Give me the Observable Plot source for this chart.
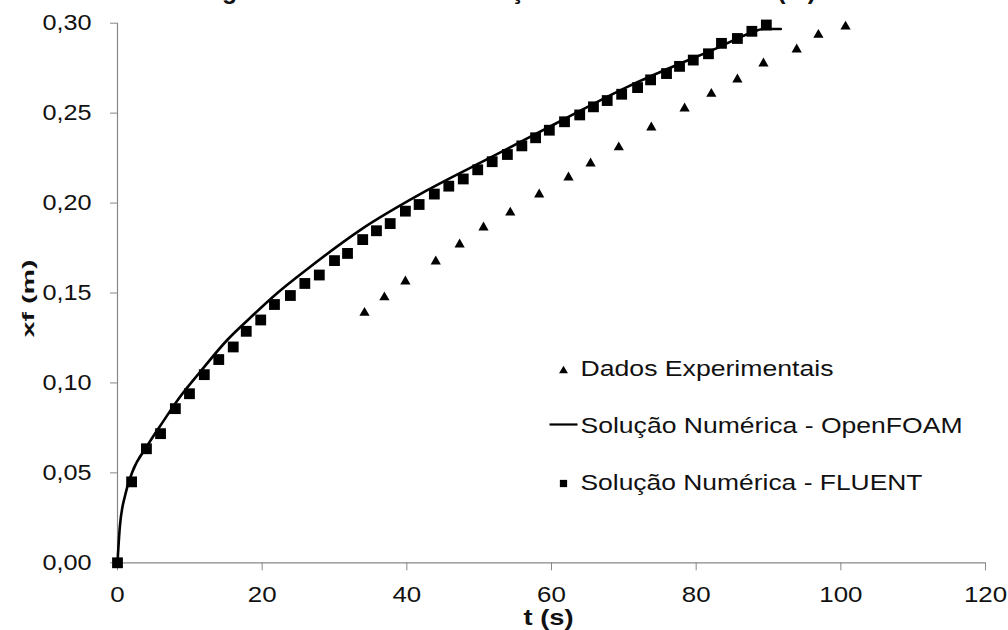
<!DOCTYPE html>
<html><head><meta charset="utf-8">
<script src="https://cdn.jsdelivr.net/npm/d3@7"></script>
<script src="https://cdn.jsdelivr.net/npm/@observablehq/plot@0.6"></script>
<style>
html,body{margin:0;padding:0;background:#fff;overflow:hidden}
#chart svg{display:block}
</style></head><body><div id="chart"></div>
<script>
// ---- text ----
const titleText = "Figura 6 – Curvas de Avanço da Frente Úmida xf (m)";
const xLabel = "t (s)";
const yLabel = "xf (m)";
const legendLabels = ["Dados Experimentais", "Solução Numérica - OpenFOAM", "Solução Numérica - FLUENT"];

// ---- ticks ----
const xTicks = [0, 20, 40, 60, 80, 100, 120];
const yTicks = [0, 0.05, 0.10, 0.15, 0.20, 0.25, 0.30];

// ---- Dados Experimentais (triangles) ----
const expT  = [34.15, 36.9, 39.8, 44.0, 47.3, 50.6, 54.3, 58.3, 62.35, 65.4, 69.3, 73.8, 78.4, 82.1, 85.7, 89.3, 93.9, 96.9, 100.65];
const expXf = [0.139, 0.1476, 0.1564, 0.1675, 0.177, 0.1864, 0.1947, 0.2048, 0.2142, 0.222, 0.231, 0.242, 0.2526, 0.2607, 0.2687, 0.2776, 0.2854, 0.2935, 0.2981];

// ---- Solução Numérica - FLUENT (squares) ----
const fluentT  = [0, 1.95, 4.0, 5.95, 8.0, 9.95, 12.0, 14.0, 16.0, 17.8, 19.8, 21.7, 23.9, 25.9, 27.9, 30.0, 31.8, 33.9, 35.8, 37.7, 39.8, 41.7, 43.8, 45.8, 47.8, 49.8, 51.8, 53.9, 55.9, 57.8, 59.7, 61.8, 63.9, 65.8, 67.7, 69.7, 71.9, 73.7, 75.9, 77.7, 79.6, 81.7, 83.5, 85.7, 87.7, 89.7];
const fluentXf = [0, 0.045, 0.0634, 0.0718, 0.0857, 0.094, 0.1046, 0.113, 0.120, 0.1287, 0.135, 0.1436, 0.1486, 0.1553, 0.160, 0.168, 0.172, 0.1797, 0.1846, 0.1886, 0.1955, 0.1992, 0.205, 0.2094, 0.2134, 0.2185, 0.223, 0.227, 0.2318, 0.2363, 0.2405, 0.2452, 0.249, 0.2535, 0.257, 0.2605, 0.2642, 0.2685, 0.272, 0.276, 0.2795, 0.283, 0.2888, 0.2915, 0.2955, 0.299];

// ---- Solução Numérica - OpenFOAM (line) ----
const foamT  = [0, 0.32, 1.1, 2.05, 4.15, 6.3, 8.5, 11.5, 15.2, 18.4, 22.1, 26.3, 33.6, 42.9, 52.0, 61.2, 70.5, 76.0, 82.95, 87.5, 89.3, 91.7];
const foamXf = [0, 0.0198, 0.0383, 0.0505, 0.0653, 0.0785, 0.0915, 0.1065, 0.1240, 0.1364, 0.150, 0.1635, 0.1851, 0.2073, 0.2262, 0.2455, 0.2646, 0.2745, 0.2863, 0.2946, 0.2968, 0.2968];

const exp = expT.map((t, i) => ({t, xf: expXf[i]}));
const fluent = fluentT.map((t, i) => ({t, xf: fluentXf[i]}));
const foam = foamT.map((t, i) => ({t, xf: foamXf[i]}));

const W = 1008, H = 630;
const mL = 117, mR = 23, mT = 22.7, mB = 67.7;
const axisGray = "#878787";
const FONT = "'Liberation Sans', Arial, sans-serif";

const lineSymbol = {draw(ctx) { ctx.moveTo(-14, 0); ctx.lineTo(14, 0); }};

const legX = 563 - mL;
const legTextX = 580 - mL;

const plot = Plot.plot({
  width: W, height: H,
  marginLeft: mL, marginRight: mR, marginTop: mT, marginBottom: mB,
  style: {fontFamily: FONT, fontSize: "22px", background: "white", color: "black"},
  x: {domain: [0, 120]},
  y: {domain: [0, 0.30]},
  marks: [
    Plot.ruleY([0], {stroke: axisGray, strokeWidth: 1.2}),
    Plot.ruleX([0], {stroke: axisGray, strokeWidth: 1.2}),
    Plot.axisX({ticks: xTicks, tickSize: 8, tickPadding: 15, stroke: axisGray, fill: "#111", fontSize: 22.5, tickFormat: d => String(d), label: null}),
    Plot.axisY({ticks: yTicks, tickSize: 7, tickPadding: 19, stroke: axisGray, fill: "#111", fontSize: 22.5, tickFormat: d => d.toFixed(2).replace(".", ","), label: null}),
    Plot.line(foam, {x: "t", y: "xf", stroke: "black", strokeWidth: 2.6, curve: "monotone-x"}),
    Plot.dot(fluent, {x: "t", y: "xf", symbol: "square", r: 6.1, fill: "black", stroke: "none"}),
    Plot.dot(exp, {x: "t", y: "xf", symbol: "triangle", r: 3.8, fill: "black", stroke: "none"}),
    // legend
    Plot.dot([legendLabels[0]], {frameAnchor: "top-left", dx: legX, dy: 370.3 - mT, symbol: "triangle", r: 3.3, fill: "black", stroke: "none"}),
    Plot.dot([legendLabels[1]], {frameAnchor: "top-left", dx: legX, dy: 424 - mT, symbol: lineSymbol, fill: "none", stroke: "black", strokeWidth: 2.2}),
    Plot.dot([legendLabels[2]], {frameAnchor: "top-left", dx: legX, dy: 483 - mT, symbol: "square", r: 4.1, fill: "black", stroke: "none"}),
    Plot.text([legendLabels[0]], {text: d => d, frameAnchor: "top-left", dx: legTextX, dy: 375 - mT, textAnchor: "start", lineAnchor: "bottom", fontSize: 22, fill: "#111", ariaLabel: () => "legend-0"}),
    Plot.text([legendLabels[1]], {text: d => d, frameAnchor: "top-left", dx: legTextX, dy: 432 - mT, textAnchor: "start", lineAnchor: "bottom", fontSize: 22, fill: "#111", ariaLabel: () => "legend-1"}),
    Plot.text([legendLabels[2]], {text: d => d, frameAnchor: "top-left", dx: legTextX, dy: 489 - mT, textAnchor: "start", lineAnchor: "bottom", fontSize: 22, fill: "#111", ariaLabel: () => "legend-2"}),
    // axis titles
    Plot.text([xLabel], {text: d => d, frameAnchor: "bottom", dx: 548 - (mL + (W - mL - mR) / 2), dy: 624 - (H - mB), textAnchor: "middle", lineAnchor: "bottom", fontSize: 22, fontWeight: "bold", fill: "#111", ariaLabel: () => "x-title"}),
    Plot.text([yLabel], {text: d => d, frameAnchor: "left", dx: 33 - mL, dy: 298 - (mT + (H - mT - mB) / 2), rotate: -90, textAnchor: "middle", lineAnchor: "bottom", fontSize: 17, fontWeight: "bold", fill: "#111", ariaLabel: () => "y-title"}),
    // title (cut by the top edge in the reference: only its descenders show)
    Plot.text([titleText], {text: d => d, frameAnchor: "top-left", dx: 199.5 - mL, dy: -1.5 - mT, textAnchor: "start", lineAnchor: "bottom", fontSize: 25, fontWeight: "bold", fill: "#111", ariaLabel: () => "title"})
  ]
});

document.getElementById("chart").append(plot);

function setLen(sel, fn) {
  plot.querySelectorAll(sel).forEach(t => {
    const L = t.getComputedTextLength();
    t.setAttribute("textLength", fn(L).toFixed(1));
    t.setAttribute("lengthAdjust", "spacingAndGlyphs");
  });
}
setLen('g[aria-label="x-axis tick label"] text', L => L * 1.15);
setLen('g[aria-label="y-axis tick label"] text', L => L * 1.12);
setLen('text[aria-label="legend-0"]', () => 253);
setLen('text[aria-label="legend-1"]', () => 382);
setLen('text[aria-label="legend-2"]', () => 342);
setLen('text[aria-label="x-title"]', () => 50);
setLen('text[aria-label="y-title"]', () => 78);
setLen('text[aria-label="title"]', () => 616);
</script></body></html>
